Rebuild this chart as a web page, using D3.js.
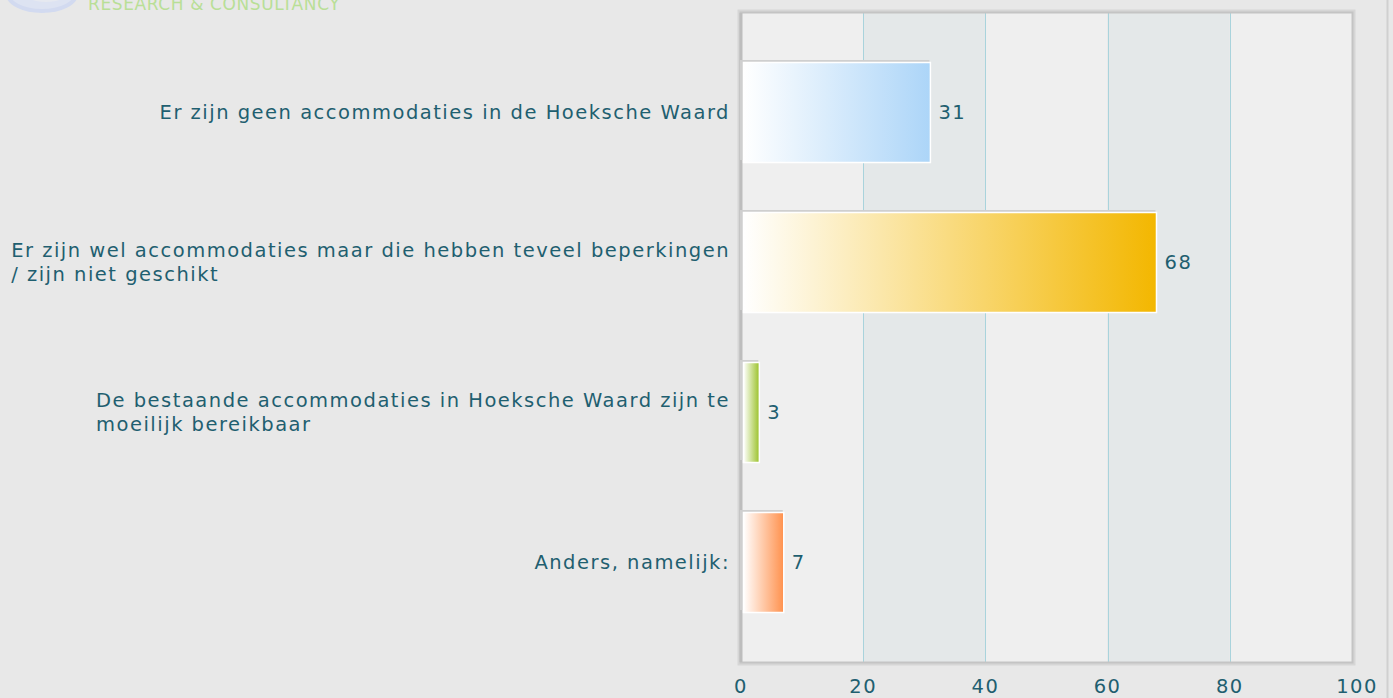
<!DOCTYPE html>
<html>
<head>
<meta charset="utf-8">
<script src="https://cdn.jsdelivr.net/npm/d3@7"></script>
<style>
  html, body { margin: 0; padding: 0; background: #e8e8e8; }
  svg { display: block; }
  text { font-family: "DejaVu Sans", Verdana, sans-serif; }
</style>
</head>
<body>
<svg id="chart" width="1393" height="698"></svg>
<script>
// chart data
var categories = [
    ["Er zijn geen accommodaties in de Hoeksche Waard"],
    ["Er zijn wel accommodaties maar die hebben teveel beperkingen", "/ zijn niet geschikt"],
    ["De bestaande accommodaties in Hoeksche Waard zijn te", "moeilijk bereikbaar"],
    ["Anders, namelijk:"]
];
var values = [31, 68, 3, 7];
var barColors = ["#acd5f8", "#f3b700", "#9bc22a", "#ff914d"];
var tickValues = [0, 20, 40, 60, 80, 100];

var
svg = d3.select('#chart'),
plot = {left: 741, right: 1352, top: 13, bottom: 662},
x = d3.scaleLinear().domain([0, 100]).range([plot.left, plot.right]),
y = d3.scaleBand().domain(d3.range(values.length)).range([37, 637]).paddingInner(1 / 3).paddingOuter(1 / 6),
defs = svg.append('defs'),
textColor = '#1f5f70',
fontSize = '19.5px',
spacing = '1.5px';

// logo remains at the top
svg.append('ellipse').attr('cx', 42).attr('cy', -6).attr('rx', 34).attr('ry', 17)
    .attr('fill', '#dde3f2').attr('stroke', '#d2daf0').attr('stroke-width', 4);
svg.append('ellipse').attr('cx', 46).attr('cy', -8).attr('rx', 22).attr('ry', 10)
    .attr('fill', '#e6e9f0');
svg.append('text').attr('x', 88).attr('y', 10).attr('fill', '#b9df97')
    .style('font-size', '17px').style('letter-spacing', '0.6px').text('RESEARCH & CONSULTANCY');

// right edge line
svg.append('line').attr('x1', 1387.5).attr('x2', 1387.5).attr('y1', 0).attr('y2', 698)
    .attr('stroke', '#d0d0d0').attr('stroke-width', 2);

// plot frame with shadow
svg.append('rect').attr('x', plot.left - 2).attr('y', plot.top - 2)
    .attr('width', plot.right - plot.left + 4).attr('height', plot.bottom - plot.top + 4)
    .attr('fill', 'none').attr('stroke', '#d6d6d6').attr('stroke-width', 3);

// alternating bands
d3.pairs(tickValues).forEach(function (p, i) {
    svg.append('rect').attr('x', x(p[0])).attr('y', plot.top)
        .attr('width', x(p[1]) - x(p[0])).attr('height', plot.bottom - plot.top)
        .attr('fill', i % 2 ? '#e4e8e9' : '#efefef');
});

// grid lines
svg.selectAll('line.grid').data(tickValues.slice(1, -1)).enter().append('line')
    .attr('class', 'grid')
    .attr('x1', function (d) { return Math.round(x(d)) + 0.5; })
    .attr('x2', function (d) { return Math.round(x(d)) + 0.5; })
    .attr('y1', plot.top).attr('y2', plot.bottom)
    .attr('stroke', '#a9d3dc').attr('stroke-width', 1);

// frame line
svg.append('rect').attr('x', plot.left - 0.5).attr('y', plot.top - 0.5)
    .attr('width', plot.right - plot.left + 1).attr('height', plot.bottom - plot.top + 1)
    .attr('fill', 'none').attr('stroke', '#c4c4c4').attr('stroke-width', 2);

// left axis line
svg.append('line').attr('x1', plot.left).attr('x2', plot.left)
    .attr('y1', plot.top).attr('y2', plot.bottom)
    .attr('stroke', '#bdbdbd').attr('stroke-width', 3);

// gradients
barColors.forEach(function (c, i) {
    var g = defs.append('linearGradient').attr('id', 'grad' + i)
        .attr('x1', '0%').attr('x2', '100%').attr('y1', '0%').attr('y2', '0%');
    g.append('stop').attr('offset', '0%').attr('stop-color', '#ffffff');
    g.append('stop').attr('offset', '100%').attr('stop-color', c);
});

var bars = svg.selectAll('g.bar').data(values).enter().append('g').attr('class', 'bar');

// shadow
bars.append('rect')
    .attr('x', x(0) - 1)
    .attr('y', function (d, i) { return y(i) - 2; })
    .attr('width', function (d) { return x(d) - x(0); })
    .attr('height', y.bandwidth())
    .attr('fill', '#cfcfcf');

bars.append('rect')
    .attr('x', x(0) + 2.5)
    .attr('y', function (d, i) { return y(i) + 0.5; })
    .attr('width', function (d) { return x(d) - x(0) - 2.5; })
    .attr('height', y.bandwidth())
    .attr('fill', function (d, i) { return 'url(#grad' + i + ')'; })
    .attr('stroke', '#ffffff').attr('stroke-width', 1.5);

// value labels
bars.append('text')
    .attr('x', function (d) { return x(d) + 8; })
    .attr('y', function (d, i) { return y(i) + y.bandwidth() / 2; })
    .attr('dy', '0.35em')
    .attr('fill', textColor).style('font-size', fontSize).style('letter-spacing', spacing)
    .text(function (d) { return d; });

// category labels
svg.selectAll('text.cat').data(categories).enter().append('text')
    .attr('class', 'cat')
    .attr('fill', textColor).style('font-size', fontSize).style('letter-spacing', spacing)
    .each(function (lines, i) {
        var t = d3.select(this),
        cy = y(i) + y.bandwidth() / 2,
        lh = 24,
        y0 = cy - (lines.length - 1) * lh / 2;
        lines.forEach(function (l, j) {
            t.append('tspan')
                .attr('x', lines.length > 1 && j > 0 ? null : 730)
                .attr('text-anchor', 'end')
                .attr('y', y0 + j * lh).attr('dy', '0.35em').text(l);
        });
    })
    .each(function (lines) {
        // wrapped lines start where the first line starts
        if (lines.length < 2) return;
        var spans = d3.select(this).selectAll('tspan'),
        first = spans.node().getComputedTextLength(),
        left = 730 - first;
        spans.attr('text-anchor', 'start').attr('x', left);
    });

// x axis tick labels
svg.selectAll('text.tick').data(tickValues).enter().append('text')
    .attr('class', 'tick')
    .attr('x', function (d) { return x(d); })
    .attr('y', 693)
    .attr('text-anchor', 'middle')
    .attr('dx', function (d) { return d === 100 ? 5 : 0; })
    .attr('fill', textColor).style('font-size', fontSize).style('letter-spacing', spacing)
    .text(function (d) { return d; });
</script>
</body>
</html>
